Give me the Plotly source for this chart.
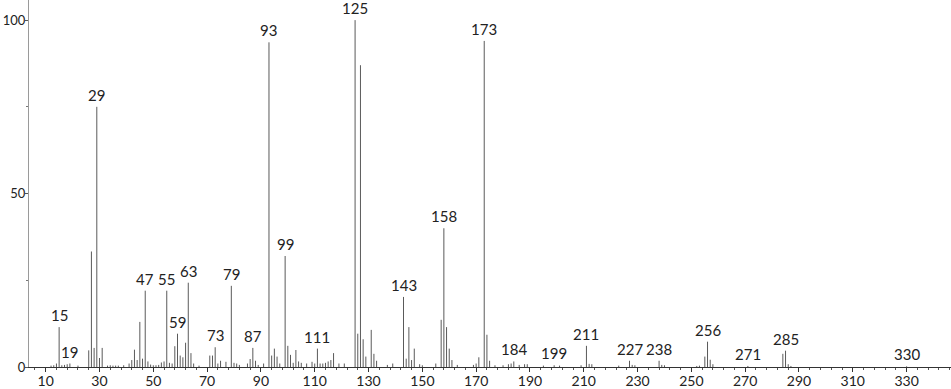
import plotly.graph_objects as go

# m/z values and relative intensities
mz = [12, 13, 14, 15, 16, 17, 18, 19, 22, 26, 27, 28, 29, 30, 31, 33, 34, 35, 36, 37, 39,
      41, 42, 43, 44, 45, 46, 47, 48, 49, 50, 51, 52, 53, 54, 55, 56, 57, 58, 59, 60, 61, 62, 63, 64, 65,
      67, 71, 72, 73, 74, 75, 77, 79, 80, 81, 82, 85, 86, 87, 88, 89, 91, 93, 94, 95, 96, 97,
      99, 100, 101, 102, 103, 104, 105, 107, 109, 110, 111, 112, 113, 114, 115, 116, 117, 119, 121,
      125, 126, 127, 128, 129, 131, 132, 133, 137, 139, 143, 144, 145, 146, 147, 149, 150, 155,
      157, 158, 159, 160, 161, 163, 169, 170, 171, 173, 174, 175, 177, 180, 182, 183, 184, 186, 188, 189,
      195, 199, 201, 209, 211, 212, 213, 223, 227, 228, 229, 238, 239, 240, 252, 253, 255, 256, 257, 258,
      271, 284, 285, 286, 287, 330]
inten = [0.4, 0.5, 1.0, 11.5, 0.5, 0.6, 0.8, 1.0, 0.4, 4.8, 33.3, 5.5, 75.0, 2.6, 5.5, 0.4, 0.5, 0.4, 0.4, 0.4, 0.5,
         1.0, 2.0, 5.0, 2.0, 13.0, 2.4, 22.0, 1.6, 0.7, 0.5, 0.5, 0.6, 1.3, 1.6, 22.0, 1.2, 1.0, 6.0, 9.6, 3.3, 2.8, 7.0, 24.3, 4.0, 1.0,
         0.4, 3.3, 3.3, 5.7, 1.0, 1.8, 1.5, 23.4, 1.2, 1.0, 0.6, 1.0, 2.3, 5.5, 1.8, 0.6, 1.0, 93.6, 3.3, 5.3, 3.0, 1.0,
         32.0, 6.1, 3.5, 1.2, 4.9, 1.6, 1.2, 1.0, 1.5, 1.0, 5.3, 1.0, 1.0, 1.2, 1.6, 2.0, 4.0, 1.0, 1.0,
         100.0, 9.6, 87.0, 8.0, 3.0, 10.7, 3.8, 1.8, 0.6, 1.0, 20.2, 2.4, 11.5, 2.0, 5.3, 0.8, 0.5, 1.0,
         13.6, 40.0, 11.5, 5.3, 2.0, 0.6, 0.6, 1.0, 2.8, 94.0, 9.3, 1.8, 0.5, 0.5, 0.8, 1.0, 1.6, 0.6, 0.8, 0.8,
         0.4, 0.5, 0.4, 0.5, 6.1, 0.9, 0.8, 0.4, 1.8, 0.6, 0.5, 1.8, 0.6, 0.5, 0.3, 0.4, 3.0, 7.3, 2.1, 0.8,
         0.3, 3.8, 4.7, 0.8, 0.3, 0.2]

labeled = [15, 19, 29, 47, 55, 59, 63, 73, 79, 87, 93, 99, 111, 125, 143, 158, 173, 184, 199,
           211, 227, 238, 256, 271, 285, 330]

x_major = list(range(10, 331, 20))
y_major = [0, 50, 100]

lx, ly = [], []
for m, v in zip(mz, inten):
    lx += [m, m, None]
    ly += [0, v, None]

fig = go.Figure()
fig.add_trace(go.Scatter(x=lx, y=ly, mode="lines", line=dict(color="#5a5a5a", width=1),
                         hoverinfo="skip", showlegend=False))

lookup = dict(zip(mz, inten))
for m in labeled:
    fig.add_annotation(x=m, y=lookup.get(m, 0), text=str(m), showarrow=False,
                       yanchor="bottom", yshift=1,
                       font=dict(family="Lato", size=15, color="#222222"))

fig.update_layout(
    width=951, height=389,
    margin=dict(l=29, r=0, t=0, b=22),
    paper_bgcolor="white", plot_bgcolor="white",
    showlegend=False,
    font=dict(family="Lato", size=13, color="#222222"),
)
fig.update_xaxes(
    range=[3.8, 346.5], showgrid=False, zeroline=False, automargin=False,
    showline=True, linecolor="#333333", linewidth=1,
    tickmode="array", tickvals=x_major, ticktext=[str(v) for v in x_major],
    ticks="outside", ticklen=4, tickcolor="#333333", tickwidth=1,
    ticklabelstandoff=-3,
    minor=dict(dtick=4, tick0=2, ticks="outside", ticklen=2, tickcolor="#555555"),
    tickfont=dict(family="Lato", size=14, color="#222222"),
)
fig.update_yaxes(
    range=[0, 105.8], showgrid=False, zeroline=False, automargin=False,
    showline=True, linecolor="#9a9a9a", linewidth=1,
    tickmode="array", tickvals=y_major, ticktext=[str(v) for v in y_major],
    ticks="outside", ticklen=3, tickcolor="#555555",
    ticklabelstandoff=-3,
    minor=dict(tickvals=[25, 75], ticks="outside", ticklen=2, tickcolor="#777777"),
    tickfont=dict(family="Lato", size=13, color="#222222"),
)

fig.write_html("out.html", config={"displayModeBar": False},
               post_script="document.body.style.margin='0';")
